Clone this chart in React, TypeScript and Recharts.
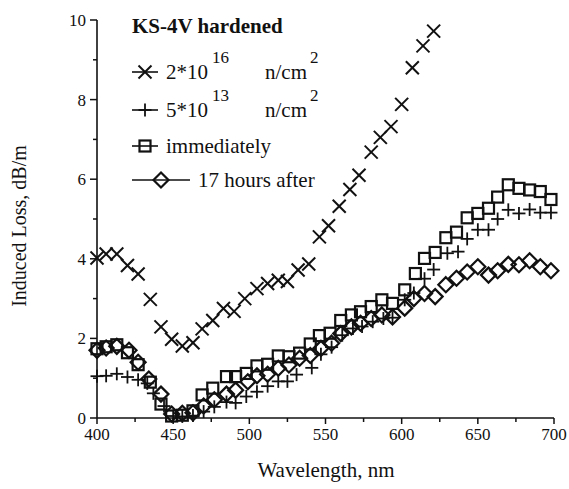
import React from 'react'
import { ScatterChart, Scatter, XAxis, YAxis } from 'recharts'

// 2*10^16 n/cm^2 (crosses)
const highNm = [400, 406, 413, 420, 427, 435, 442, 449, 456, 463, 469, 476, 483, 490, 497, 505, 512, 519, 525, 532, 539, 546, 552, 559, 566, 572, 580, 586, 593, 600, 607, 614, 621]
const highLoss = [4.02, 4.12, 4.12, 3.83, 3.62, 2.98, 2.29, 1.98, 1.81, 1.89, 2.24, 2.45, 2.75, 2.68, 3.0, 3.25, 3.38, 3.46, 3.43, 3.72, 3.87, 4.55, 4.83, 5.32, 5.74, 6.1, 6.68, 7.05, 7.32, 7.88, 8.8, 9.35, 9.72]

// 5*10^13 n/cm^2 (plus)
const lowNm = [400, 406, 413, 420, 427, 433, 437, 444, 450, 456, 463, 470, 477, 485, 491, 498, 505, 512, 519, 525, 531, 541, 547, 554, 561, 568, 574, 581, 588, 594, 602, 608, 615, 621, 630, 637, 643, 650, 657, 663, 670, 677, 684, 691, 698]
const lowLoss = [1.05, 1.06, 1.11, 1.03, 0.96, 0.87, 0.62, 0.3, 0.05, 0.04, 0.06, 0.16, 0.28, 0.4, 0.38, 0.54, 0.66, 0.8, 0.92, 0.92, 1.09, 1.26, 1.6, 1.78, 2.08, 2.25, 2.3, 2.42, 2.5, 2.52, 2.97, 3.14, 3.5, 3.73, 4.14, 4.18, 4.5, 4.73, 4.73, 5.0, 5.23, 5.14, 5.24, 5.16, 5.16]

// immediately (squares)
const immNm = [400, 406, 413, 420, 427, 435, 442, 449, 456, 463, 469, 476, 485, 491, 498, 505, 512, 519, 526, 533, 540, 546, 553, 560, 567, 573, 580, 587, 594, 602, 609, 615, 622, 629, 636, 643, 650, 657, 663, 670, 677, 684, 691, 698]
const immLoss = [1.74, 1.79, 1.84, 1.64, 1.34, 0.9, 0.35, 0.05, 0.07, 0.18, 0.58, 0.75, 1.04, 1.04, 1.12, 1.31, 1.35, 1.56, 1.54, 1.63, 1.86, 2.07, 2.13, 2.45, 2.59, 2.67, 2.8, 2.97, 2.88, 3.22, 3.63, 4.01, 4.16, 4.53, 4.67, 5.03, 5.14, 5.27, 5.55, 5.86, 5.77, 5.73, 5.69, 5.49]

// 17 hours after (diamonds)
const afterNm = [400, 406, 413, 421, 427, 434, 442, 449, 456, 463, 470, 477, 485, 491, 499, 505, 512, 519, 526, 533, 540, 547, 554, 560, 567, 573, 580, 587, 594, 602, 608, 615, 622, 629, 636, 643, 650, 657, 663, 670, 677, 684, 691, 698]
const afterLoss = [1.7, 1.76, 1.8, 1.7, 1.4, 0.98, 0.6, 0.1, 0.12, 0.13, 0.3, 0.46, 0.6, 0.7, 0.91, 1.06, 1.1, 1.25, 1.33, 1.5, 1.57, 1.75, 1.88, 2.12, 2.29, 2.38, 2.5, 2.59, 2.54, 2.76, 3.0, 3.13, 3.05, 3.35, 3.51, 3.67, 3.8, 3.59, 3.7, 3.86, 3.85, 3.95, 3.8, 3.7]

const xTicks = [400, 425, 450, 475, 500, 525, 550, 575, 600, 625, 650, 675, 700]
const yTicks = [0, 1, 2, 3, 4, 5, 6, 7, 8, 9, 10]

const zip = (xs: number[], ys: number[]) => xs.map((x, i) => ({ x, y: ys[i] }))

const serif = '"Liberation Serif", "DejaVu Serif", serif'
const ink = '#111'

const Cross = ({ cx, cy }: any) => (
  <g stroke={ink} strokeWidth={2}>
    <line x1={cx - 6.5} y1={cy - 6.5} x2={cx + 6.5} y2={cy + 6.5} />
    <line x1={cx - 6.5} y1={cy + 6.5} x2={cx + 6.5} y2={cy - 6.5} />
  </g>
)
const Plus = ({ cx, cy }: any) => (
  <g stroke={ink} strokeWidth={1.8}>
    <line x1={cx - 6.5} y1={cy} x2={cx + 6.5} y2={cy} />
    <line x1={cx} y1={cy - 6.5} x2={cx} y2={cy + 6.5} />
  </g>
)
const Square = ({ cx, cy }: any) => (
  <rect x={cx - 5.5} y={cy - 5.5} width={11} height={11} fill="none" stroke={ink} strokeWidth={2.2} />
)
const Diamond = ({ cx, cy }: any) => (
  <path d={`M${cx},${cy - 7.5}L${cx + 7.5},${cy}L${cx},${cy + 7.5}L${cx - 7.5},${cy}Z`} fill="none" stroke={ink} strokeWidth={2.2} />
)

const XTick = ({ x, y, payload }: any) => {
  const major = payload.value % 50 === 0
  return (
    <g>
      <line x1={x} x2={x} y1={y} y2={y + (major ? 6 : 4)} stroke={ink} strokeWidth={1.5} />
      {major && (
        <text x={x} y={y + 22} textAnchor="middle" fontSize={17} fontFamily={serif} fill={ink}>
          {payload.value}
        </text>
      )}
    </g>
  )
}

const YTick = ({ x, y, payload }: any) => {
  const major = payload.value % 2 === 0
  return (
    <g>
      <line x1={x} x2={x - (major ? 7 : 4)} y1={y} y2={y} stroke={ink} strokeWidth={1.5} />
      {major && (
        <text x={x - 11} y={y + 6} textAnchor="end" fontSize={17} fontFamily={serif} fill={ink}>
          {payload.value}
        </text>
      )}
    </g>
  )
}

const LegendRow = ({ y, len, marker, children }: any) => {
  const mid = 132 + len / 2
  return (
    <g>
      <line x1={132} x2={132 + len} y1={y} y2={y} stroke={ink} strokeWidth={1.6} />
      {marker(mid, y)}
      <text x={132 + len + 8} y={y + 7} fontSize={21} fontFamily={serif} fill={ink}>
        {children}
      </text>
    </g>
  )
}

export default function App() {
  return (
    <div style={{ position: 'absolute', left: 0, top: 0, width: 569, height: 489, background: '#fff' }}>
      <ScatterChart width={569} height={489} margin={{ top: 20, right: 15, bottom: 0, left: 0 }}>
        <XAxis
          type="number"
          dataKey="x"
          domain={[400, 700]}
          ticks={xTicks}
          interval={0}
          height={71}
          tickSize={0}
          tickMargin={0}
          tickLine={false}
          axisLine={{ stroke: ink, strokeWidth: 1.6 }}
          tick={<XTick />}
        />
        <YAxis
          type="number"
          dataKey="y"
          domain={[0, 10]}
          ticks={yTicks}
          interval={0}
          width={97}
          tickSize={0}
          tickMargin={0}
          tickLine={false}
          axisLine={{ stroke: ink, strokeWidth: 1.6 }}
          tick={<YTick />}
        />
        <Scatter data={zip(highNm, highLoss)} shape={<Cross />} isAnimationActive={false} />
        <Scatter data={zip(lowNm, lowLoss)} shape={<Plus />} isAnimationActive={false} />
        <Scatter data={zip(immNm, immLoss)} shape={<Square />} isAnimationActive={false} />
        <Scatter data={zip(afterNm, afterLoss)} shape={<Diamond />} isAnimationActive={false} />
      </ScatterChart>
      <svg width={569} height={489} style={{ position: 'absolute', left: 0, top: 0, pointerEvents: 'none' }}>
        <text x={132} y={33} fontSize={21} fontWeight="bold" fontFamily={serif} fill={ink}>
          KS-4V hardened
        </text>
        <LegendRow y={72} len={26} marker={(cx: number, cy: number) => <Cross cx={cx} cy={cy} />}>
          2*10<tspan dy={-16} dx={4} fontSize={17}>16</tspan>
          <tspan dy={16} dx={36}>n/cm</tspan>
          <tspan dy={-16} dx={3} fontSize={17}>2</tspan>
        </LegendRow>
        <LegendRow y={110} len={26} marker={(cx: number, cy: number) => <Plus cx={cx} cy={cy} />}>
          5*10<tspan dy={-16} dx={4} fontSize={17}>13</tspan>
          <tspan dy={16} dx={36}>n/cm</tspan>
          <tspan dy={-16} dx={3} fontSize={17}>2</tspan>
        </LegendRow>
        <LegendRow y={146} len={26} marker={(cx: number, cy: number) => <Square cx={cx} cy={cy} />}>
          immediately
        </LegendRow>
        <LegendRow y={180} len={58} marker={(cx: number, cy: number) => <Diamond cx={cx} cy={cy} />}>
          17 hours after
        </LegendRow>
        <text x={326} y={477} textAnchor="middle" fontSize={21} fontFamily={serif} fill={ink}>
          Wavelength, nm
        </text>
        <text transform="translate(26,226) rotate(-90)" textAnchor="middle" fontSize={20} fontFamily={serif} fill={ink}>
          Induced Loss, dB/m
        </text>
      </svg>
    </div>
  )
}
